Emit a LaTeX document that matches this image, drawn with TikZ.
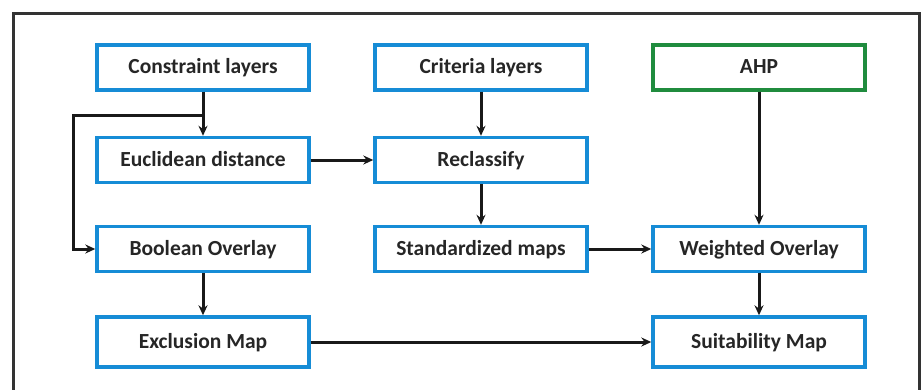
\documentclass[tikz,border=0pt]{standalone}
\usepackage{fontspec}
\setmainfont{Carlito}
\usetikzlibrary{arrows.meta}

\definecolor{boxblue}{RGB}{22,140,214}
\definecolor{boxgreen}{RGB}{32,140,62}

\tikzset{
	stepbox/.style={draw=boxblue, line width=3.4pt, fill=white, minimum width=212pt, minimum height=45pt,
		inner sep=0pt, text height=12pt, text depth=0pt, text=black!85,
		font=\fontsize{21.5}{24}\selectfont\bfseries},
	flow/.style={-{Stealth[length=10pt,width=9pt]}, line width=3pt, black!90}
}

\begin{document}
\begin{tikzpicture}[x=1pt,y=-1pt]
	\useasboundingbox (0,0) rectangle (922,389);
	
	% outer frame
	\draw[line width=3pt, black!80] (13,400) -- (13,13) -- (919,13) -- (919,400);
	
	% left column
	\node[stepbox] (constraint) at (203,67.5) {Constraint layers};
	\node[stepbox] (euclid) at (203,160) {Euclidean distance};
	\node[stepbox] (boolean) at (203,249) {Boolean Overlay};
	\node[stepbox, minimum height=50pt] (exclusion) at (203,342) {Exclusion Map};
	
	% middle column
	\node[stepbox] (criteria) at (481,67.5) {Criteria layers};
	\node[stepbox] (reclass) at (481,160) {Reclassify};
	\node[stepbox] (standard) at (481,249) {Standardized maps};
	
	% right column
	\node[stepbox, draw=boxgreen] (ahp) at (759,67.5) {AHP};
	\node[stepbox] (weighted) at (759,249) {Weighted Overlay};
	\node[stepbox, minimum height=50pt] (suit) at (759,342) {Suitability Map};
	
	% connectors
	\coordinate (split) at (203,115);
	\draw[flow] (constraint) -- (euclid);
	\draw[flow] (split) -- (73,115) |- (boolean.west);
	\draw[flow] (boolean) -- (exclusion);
	\draw[flow] (criteria) -- (reclass);
	\draw[flow] (reclass) -- (standard);
	\draw[flow] (euclid) -- (reclass);
	\draw[flow] (standard) -- (weighted);
	\draw[flow] (ahp) -- (weighted);
	\draw[flow] (weighted) -- (suit);
	\draw[flow] (exclusion) -- (suit);
	
\end{tikzpicture}
\end{document}
